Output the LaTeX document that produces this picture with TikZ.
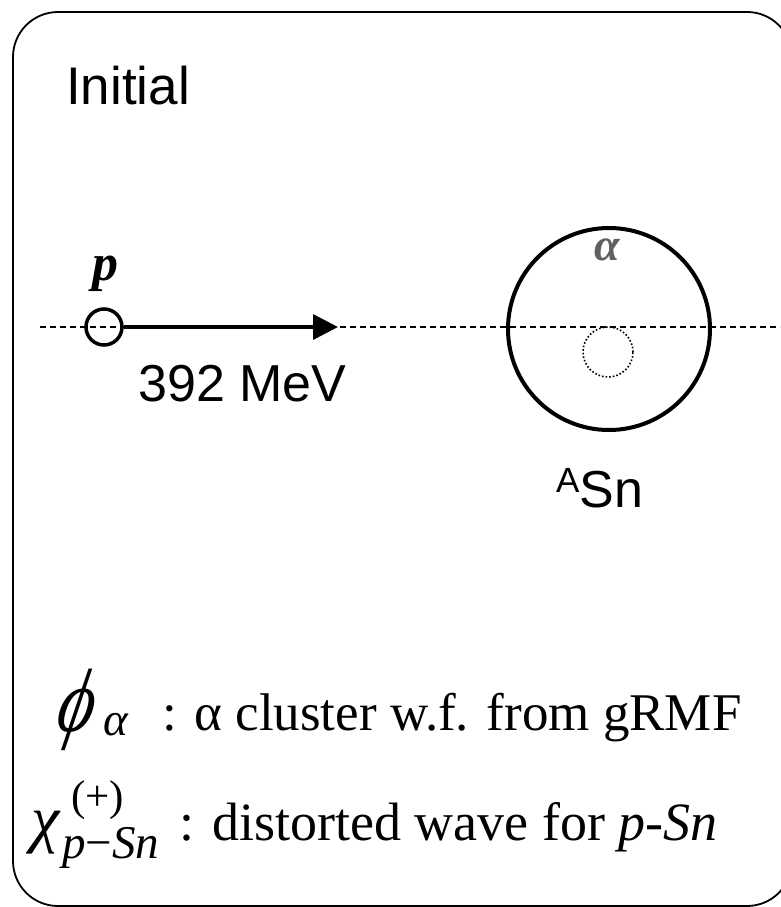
\documentclass[tikz,border=0pt]{standalone}
\usepackage{fontspec}
\setmainfont{Liberation Serif}
\newfontfamily\arialf{Liberation Sans}
\usetikzlibrary{arrows.meta}
\definecolor{alphagray}{HTML}{606060}
\tikzset{
  frame/.style={line width=1.8pt, rounded corners=45pt},
  axisline/.style={line width=1.6pt, dash pattern=on 6pt off 4pt},
  nucl/.style={circle, draw, inner sep=0pt},
  lbl/.style={inner sep=0pt, anchor=base west},
}
\newcommand{\fsz}[1]{\fontsize{#1}{#1}\selectfont}
\begin{document}
\begin{tikzpicture}[x=1pt,y=-1pt]
\useasboundingbox (0,0) rectangle (780,907);
\draw[frame] (13,12) rectangle (792,906);
\node[lbl] (title) at (66,104) {\arialf\fsz{53}Initial};
% axis
\coordinate (axL) at (40,327);
\coordinate (axR) at (780,327);
\draw[axisline] (axL) -- (axR);
% proton
\node[nucl, line width=3.5pt, minimum size=36pt] (pc) at (104,327) {};
\coordinate (tip) at (338,327);
\draw[line width=3.5pt, -{Triangle[length=25pt,width=25pt]}] (pc.east) -- (tip);
\node[inner sep=0pt, anchor=base] (plab) at (105,280) {\fsz{52}\bfseries\itshape p};
\node[lbl] (energy) at (138,401) {\arialf\fsz{52}392 MeV};
% nucleus
\node[nucl, line width=4pt, minimum size=202pt] (sn) at (609,329) {};
\node[nucl, dotted, line width=1.6pt, minimum size=50pt] (alc) at (608,352) {};
\node[inner sep=0pt, text=alphagray] (alab) at (607,250) {\fsz{46}\bfseries\itshape α};
\node[lbl] (snlab) at (556,507) {\arialf\fsz{52}\raisebox{15pt}{\fsz{35}A}Sn};
% legend
\begin{scope}[shift={(54,731)}, xslant=0.2]
  \node[lbl, transform shape] (phi) at (0,0) {\scalebox{0.78}[1]{\fsz{90}\itshape ϕ}};
\end{scope}
\node[lbl] (phisub) at (103,735) {\fsz{47}\itshape α};
\node[lbl] (leg1) at (162,730) {\fsz{53}: α cluster w.f. from gRMF};
\node[lbl] (chi) at (31,840) {\fsz{64}\itshape χ};
\node[lbl] (chisup) at (71,810) {\fsz{43}(+)};
\node[lbl] (chisub) at (62,858) {\fsz{47}\itshape p\upshape −\itshape Sn};
\node[lbl] (leg2) at (179,840) {\fsz{54}: distorted wave for \textit{p-Sn}};
\end{tikzpicture}
\end{document}
